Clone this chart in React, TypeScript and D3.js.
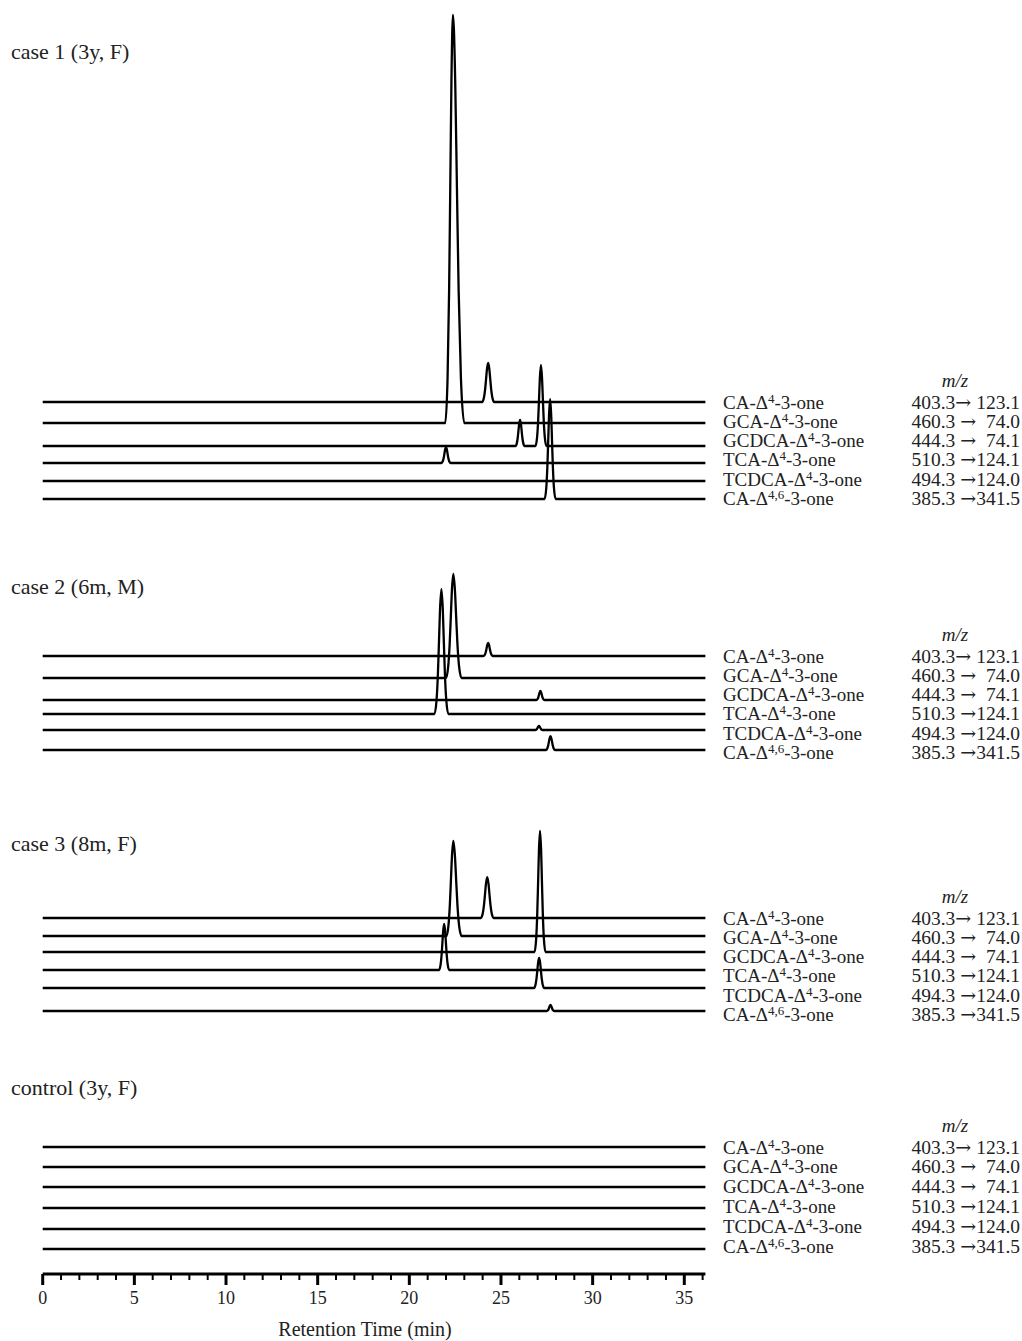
import React from "react";
import * as d3 from "d3";

// ---------- data ----------
const caseTitles = ["case 1 (3y, F)", "case 2 (6m, M)", "case 3 (8m, F)", "control (3y, F)"];
const compounds = ["CA", "GCA", "GCDCA", "TCA", "TCDCA", "CA"];
const deltaSup = ["4", "4", "4", "4", "4", "4,6"];
const transitions = [
  "403.3\u2192 123.1",
  "460.3 \u2192  74.0",
  "444.3 \u2192  74.1",
  "510.3 \u2192124.1",
  "494.3 \u2192124.0",
  "385.3 \u2192341.5",
];

// peaks: [trace index, retention time (min), relative intensity (%), left half-width (min), right half-width (min)]
const case1Peaks: number[][] = [
  [1, 22.38, 100, 0.42, 0.62],
  [0, 24.3, 9.6, 0.33, 0.33],
  [2, 26.04, 6.4, 0.25, 0.25],
  [2, 27.18, 19.9, 0.3, 0.3],
  [3, 22.0, 3.9, 0.25, 0.25],
  [5, 27.68, 24.5, 0.3, 0.3],
];
const case2Peaks: number[][] = [
  [0, 24.3, 3.2, 0.25, 0.25],
  [1, 22.4, 25.5, 0.4, 0.45],
  [2, 27.15, 2.2, 0.22, 0.22],
  [3, 21.75, 30.6, 0.38, 0.38],
  [4, 27.07, 1.0, 0.2, 0.2],
  [5, 27.7, 3.4, 0.25, 0.25],
];
const case3Peaks: number[][] = [
  [0, 24.25, 10.0, 0.35, 0.35],
  [1, 22.4, 23.3, 0.38, 0.45],
  [2, 27.13, 29.7, 0.3, 0.3],
  [3, 21.9, 11.3, 0.28, 0.28],
  [4, 27.08, 7.4, 0.28, 0.28],
  [5, 27.7, 1.5, 0.2, 0.2],
];
const controlPeaks: number[][] = [];
const peaksByCase = [case1Peaks, case2Peaks, case3Peaks, controlPeaks];

// normalised chromatographic peak profile: [offset in half-widths, fraction of apex]
const peakProfile: number[][] = [
  [-1, 0], [-0.7, 0.11], [-0.5, 0.325], [-0.35, 0.576], [-0.2, 0.835], [0, 1],
  [0.2, 0.835], [0.35, 0.576], [0.5, 0.325], [0.7, 0.11], [1, 0],
];

const majorTicks = [0, 5, 10, 15, 20, 25, 30, 35];
const minorTicks = d3.range(0, 37, 1);
const runEnd = 36.15;

// ---------- layout ----------
const W = 1022;
const H = 1341;
const groupBaselines = [
  [402, 423, 446, 463, 481, 499],
  [656, 678, 700, 714, 730, 750],
  [918, 936, 952, 970, 988, 1011],
  [1147, 1167, 1187, 1208, 1229, 1249],
];
const titleY = [59, 594, 851, 1095];
const labelStep = [19.3, 19.3, 19.3, 19.8];
const font = "'Liberation Serif', 'Times New Roman', Times, serif";
const arrowFont = "'DejaVu Serif', 'DejaVu Sans', serif";
const axisY = 1274;

const x = d3.scaleLinear().domain([0, 35]).range([42.7, 684.3]);
const yI = d3.scaleLinear().domain([0, 100]).range([0, 408]);

function tracePoints(peaks: number[][], trace: number): [number, number][] {
  const pts: [number, number][] = [[0, 0]];
  peaks
    .filter((p) => p[0] === trace)
    .sort((a, b) => a[1] - b[1])
    .forEach(([, rt, h, wl, wr]) => {
      peakProfile.forEach(([o, f]) => {
        pts.push([rt + o * (o < 0 ? wl : wr), h * f]);
      });
    });
  pts.push([runEnd, 0]);
  return pts;
}

export default function App() {
  return (
    <svg
      width={W}
      height={H}
      viewBox={`0 0 ${W} ${H}`}
      style={{ position: "absolute", left: 0, top: 0, background: "#fff" }}
      fontFamily={font}
    >
      <rect x={0} y={0} width={W} height={H} fill="#fff" />
      {caseTitles.map((title, g) => {
        const bases = groupBaselines[g];
        const peaks = peaksByCase[g];
        return (
          <g key={g}>
            <text x={11} y={titleY[g]} fontSize={22} fill="#222">
              {title}
            </text>
            {compounds.map((c, i) => {
              const base = bases[i];
              const line = d3
                .line<[number, number]>()
                .x((d) => x(d[0]))
                .y((d) => base - yI(d[1]))
                .curve(d3.curveMonotoneX);
              return (
                <path
                  key={i}
                  d={line(tracePoints(peaks, i)) || ""}
                  fill="none"
                  stroke="#000"
                  strokeWidth={2.3}
                  strokeLinejoin="round"
                />
              );
            })}
            <text
              x={955}
              y={bases[0] - 21 + 6}
              fontSize={19}
              fontStyle="italic"
              textAnchor="middle"
              fill="#222"
            >
              m/z
            </text>
            {compounds.map((c, i) => {
              const cy = bases[0] + i * labelStep[g] + 6.5;
              const [left, right] = transitions[i].split("\u2192");
              return (
                <g key={"l" + i}>
                  <text x={723} y={cy} fontSize={19} fill="#222">
                    {c + "-\u0394"}
                    <tspan fontSize={13} dy={-6}>
                      {deltaSup[i]}
                    </tspan>
                    <tspan dy={6}>-3-one</tspan>
                  </text>
                  <text
                    x={1020}
                    y={cy}
                    fontSize={19.5}
                    textAnchor="end"
                    fill="#222"
                    xmlSpace="preserve"
                    style={{ whiteSpace: "pre" }}
                  >
                    {left}
                    <tspan fontFamily={arrowFont} fontSize={19}>{"\u2192"}</tspan>
                    {right}
                  </text>
                </g>
              );
            })}
          </g>
        );
      })}

      {/* x axis */}
      <line x1={x(0)} x2={x(runEnd)} y1={axisY} y2={axisY} stroke="#000" strokeWidth={3} />
      {minorTicks.map((t) => (
        <line
          key={"m" + t}
          x1={x(t)}
          x2={x(t)}
          y1={axisY}
          y2={axisY + (t % 5 === 0 ? 11 : 6)}
          stroke="#000"
          strokeWidth={t % 5 === 0 ? 3 : 2}
        />
      ))}
      {majorTicks.map((t) => (
        <text key={"t" + t} x={x(t)} y={axisY + 30} fontSize={18} textAnchor="middle" fill="#222">
          {t}
        </text>
      ))}
      <text x={365} y={1336} fontSize={20} textAnchor="middle" fill="#222">
        Retention Time (min)
      </text>
    </svg>
  );
}
